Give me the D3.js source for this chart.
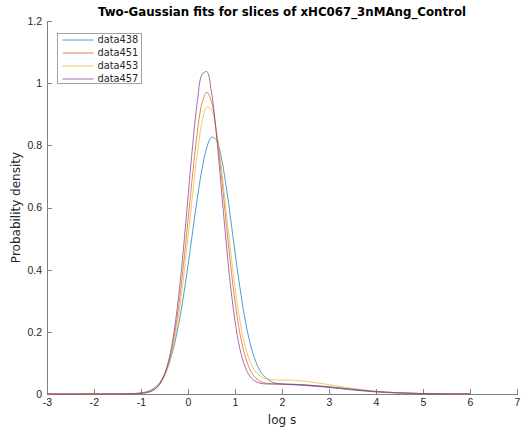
<!DOCTYPE html>
<html>
<head>
<meta charset="utf-8">
<script src="https://cdn.jsdelivr.net/npm/d3@7"></script>
<style>
  body { margin: 0; background: #fff; }
  svg { display: block; font-family: "DejaVu Sans", sans-serif; }
  .axis text { fill: #262626; font-size: 10.5px; }
  .axis path, .axis line { stroke: #808080; shape-rendering: crispEdges; }
</style>
</head>
<body>
<svg id="chart" width="522" height="432"></svg>
<script>
// x positions (log s) where the curves were read
const xs = [-3, -2.5, -2, -1.5, -1.25, -1, -0.9, -0.8, -0.7, -0.6, -0.5, -0.4, -0.3, -0.2, -0.1,
  0, 0.1, 0.2, 0.3, 0.4, 0.5, 0.6, 0.7, 0.8, 0.9, 1.0, 1.1, 1.2, 1.3, 1.4, 1.5, 1.6, 1.8,
  2.0, 2.25, 2.5, 3, 3.5, 4, 4.5, 5, 5.5, 6];

const data438 = [0, 0, 0.0001, 0.0003, 0.0009, 0.0035, 0.0064, 0.0118, 0.0214, 0.0371, 0.0621, 0.0997, 0.1528, 0.2234, 0.3116,
  0.414, 0.524, 0.632, 0.725, 0.793, 0.826, 0.818, 0.767, 0.680, 0.572, 0.456, 0.347, 0.252, 0.177, 0.122, 0.084, 0.060, 0.038,
  0.032, 0.0295, 0.027, 0.021, 0.013, 0.0066, 0.0028, 0.001, 0.0003, 0.0001];

const data451 = [0, 0, 0.0001, 0.0005, 0.0008, 0.0025, 0.0045, 0.0086, 0.0171, 0.033, 0.062, 0.109, 0.180, 0.281, 0.410,
  0.558, 0.710, 0.844, 0.937, 0.971, 0.940, 0.850, 0.719, 0.569, 0.424, 0.298, 0.199, 0.130, 0.085, 0.058, 0.044, 0.037, 0.033,
  0.032, 0.031, 0.029, 0.023, 0.015, 0.008, 0.004, 0.0015, 0.0005, 0.0001];

const data453 = [0, 0, 0.0001, 0.0003, 0.0006, 0.0022, 0.0041, 0.0081, 0.0159, 0.0306, 0.0565, 0.0987, 0.163, 0.253, 0.368,
  0.504, 0.646, 0.777, 0.875, 0.923, 0.914, 0.848, 0.738, 0.605, 0.467, 0.343, 0.240, 0.164, 0.112, 0.080, 0.062, 0.052, 0.046,
  0.045, 0.044, 0.041, 0.030, 0.018, 0.0086, 0.0034, 0.0011, 0.0003, 0.0001];

const data457 = [0, 0, 0.0001, 0.0005, 0.0008, 0.0022, 0.0039, 0.0078, 0.016, 0.0324, 0.0632, 0.115, 0.197, 0.313, 0.462,
  0.633, 0.802, 0.943, 1.028, 1.037, 0.970, 0.841, 0.677, 0.507, 0.355, 0.235, 0.148, 0.093, 0.061, 0.044, 0.036, 0.033, 0.032,
  0.032, 0.031, 0.029, 0.023, 0.015, 0.008, 0.0037, 0.0014, 0.0005, 0.0001];

const seriesNames = ["data438", "data451", "data453", "data457"];
const seriesValues = [data438, data451, data453, data457];
const seriesColors = ["#0072BD", "#D95319", "#EDB120", "#7E2F8E"];

const xTicks = [-3, -2, -1, 0, 1, 2, 3, 4, 5, 6, 7];
const yTicks = [0, 0.2, 0.4, 0.6, 0.8, 1, 1.2];

const titleText = "Two-Gaussian fits for slices of xHC067_3nMAng_Control";
const xLabel = "log s";
const yLabel = "Probability density";

const svg = d3.select("#chart");
const plot = { left: 47, right: 517, top: 21, bottom: 394 };

const x = d3.scaleLinear().domain([-3, 7]).range([plot.left, plot.right]);
const y = d3.scaleLinear().domain([0, 1.2]).range([plot.bottom, plot.top]);

// axes, ticks point inward like MATLAB
svg.append("g")
    .attr("class", "axis")
    .attr("transform", `translate(0,${plot.bottom})`)
    .call(d3.axisBottom(x).tickValues(xTicks).tickFormat(d => String(d))
        .tickSizeInner(-5).tickSizeOuter(0).tickPadding(5));

svg.append("g")
    .attr("class", "axis")
    .attr("transform", `translate(${plot.left},0)`)
    .call(d3.axisLeft(y).tickValues(yTicks).tickFormat(d3.format("~g"))
        .tickSizeInner(-5).tickSizeOuter(0).tickPadding(5));

// curves
const line = d3.line()
    .x((d, i) => x(xs[i]))
    .y(d => y(d))
    .curve(d3.curveCatmullRom.alpha(0.5));

seriesValues.forEach((vals, i) => {
    svg.append("path")
        .datum(vals)
        .attr("d", line)
        .attr("fill", "none")
        .attr("stroke", seriesColors[i])
        .attr("stroke-width", 0.7);
});

// title + labels
svg.append("text")
    .attr("x", (plot.left + plot.right) / 2)
    .attr("y", 16)
    .attr("text-anchor", "middle")
    .attr("font-size", 11.8)
    .attr("font-weight", "bold")
    .attr("fill", "#000")
    .text(titleText);

svg.append("text")
    .attr("x", (plot.left + plot.right) / 2)
    .attr("y", 424)
    .attr("text-anchor", "middle")
    .attr("font-size", 12)
    .attr("fill", "#262626")
    .text(xLabel);

svg.append("text")
    .attr("transform", `translate(20,${(plot.top + plot.bottom) / 2}) rotate(-90)`)
    .attr("text-anchor", "middle")
    .attr("font-size", 12)
    .attr("fill", "#262626")
    .text(yLabel);

// legend
const legend = svg.append("g").attr("transform", "translate(57.5,33.5)");
legend.append("rect")
    .attr("width", 84)
    .attr("height", 50)
    .attr("fill", "#fff")
    .attr("stroke", "#8c8c8c")
    .attr("stroke-width", 0.8);

seriesNames.forEach((name, i) => {
    const ly = 6.5 + i * 13;
    legend.append("line")
        .attr("x1", 5).attr("x2", 36)
        .attr("y1", ly).attr("y2", ly)
        .attr("stroke", seriesColors[i])
        .attr("stroke-width", 0.7);
    legend.append("text")
        .attr("x", 40)
        .attr("y", ly)
        .attr("dy", "0.35em")
        .attr("font-size", 9.8)
        .attr("fill", "#262626")
        .text(name);
});
</script>
</body>
</html>
